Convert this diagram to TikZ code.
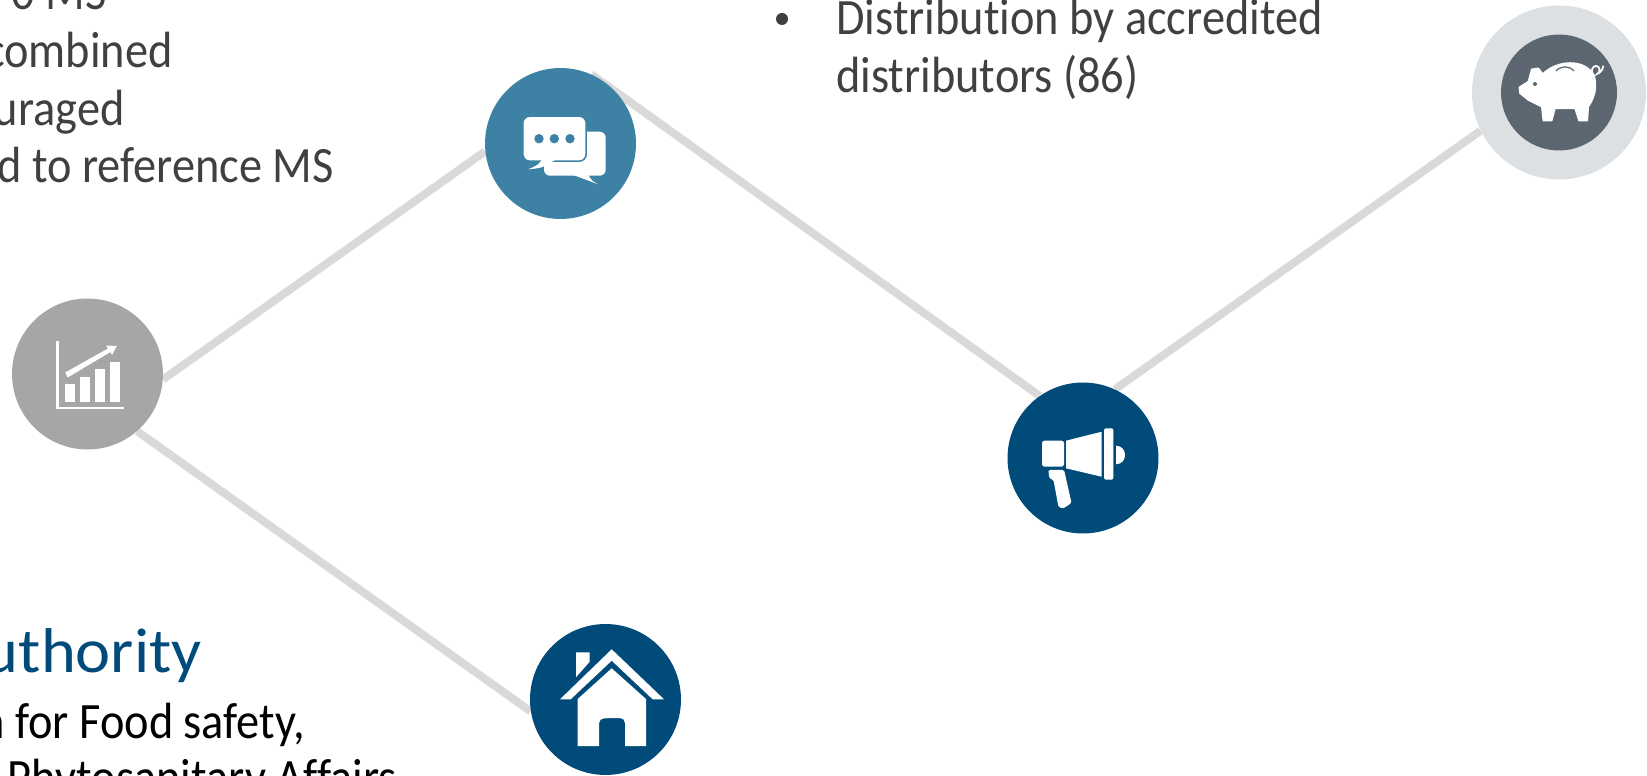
\documentclass[tikz,border=0pt]{standalone}
\usepackage{fontspec}
\setmainfont{Carlito}[FakeStretch=0.91,Ligatures=NoCommon]
\newfontfamily\headfont{Carlito}[FakeStretch=1.05,Ligatures=NoCommon]
\usetikzlibrary{backgrounds}
\definecolor{linegray}{HTML}{D9D9D9}
\definecolor{chartgray}{HTML}{A6A6A6}
\definecolor{chatblue}{HTML}{3D81A5}
\definecolor{darkblue}{HTML}{004B7A}
\definecolor{pigslate}{HTML}{5B6670}
\definecolor{pigring}{HTML}{DDE0E3}
\definecolor{textgray}{HTML}{404040}
\begin{document}
\begin{tikzpicture}[x=0.02cm,y=-0.02cm,
    cnode/.style={circle,minimum size=3.02cm,inner sep=0pt},
    link/.style={draw=linegray,line width=0.16cm},
    tnode/.style={anchor=base east,inner sep=0pt,font=\fontsize{29}{34}\selectfont},
    icon/.style={fill=white,draw=none}]
    \useasboundingbox (0,0) rectangle (1647,776);

    \node[cnode,fill=chartgray] (chart) at (87.5,374) {};
    \node[cnode,fill=chatblue] (chat) at (560.5,143.5) {};
    \node[cnode,fill=darkblue] (megaphone) at (1083,458) {};
    \node[cnode,fill=darkblue] (house) at (605.5,699.5) {};
    \node[circle,minimum size=3.48cm,inner sep=0pt,fill=pigring] (piggy) at (1559,92.5) {};
    \node[circle,minimum size=2.32cm,inner sep=0pt,fill=pigslate] (pigcore) at (piggy.center) {};

    \begin{scope}[on background layer]
    \draw[link] (chart.-4.5) -- (chat.186.5);
    \draw[link] (chart.-49) -- (house.189);
    \draw[link] (chat.66) -- (megaphone.125);
    \draw[link] (megaphone.65) -- (piggy.206.6);
    \end{scope}

    \node[tnode,text=textgray] (t1) at (107,10) {0 MS};
    \node[tnode,text=textgray] (t2) at (173,68) {combined};
    \node[tnode,text=textgray] (t3) at (125,125.5) {uraged};
    \node[tnode,text=textgray] (t4) at (334,183) {d to reference MS};
    \node[tnode,anchor=base west,text=textgray] (d1) at (836,35) {Distribution by accredited};
    \node[tnode,anchor=base west,text=textgray] (d2) at (836,92.5) {distributors (86)};
    \node[circle,fill=textgray,minimum size=0.24cm,inner sep=0pt] (bullet) at (782,19) {};
    \node[tnode,text=darkblue,font=\fontsize{36}{42}\headfont] (a1) at (202,673) {Authority};
    \node[tnode,text=black] (a2) at (305,738) {n for Food safety,};
    \node[tnode,text=black] (a3) at (397,794) {Phytosanitary Affairs};

    % chart icon
    \draw[white,line width=0.05cm] (57.5,341.5) -- (57.5,408) -- (124,408);
    \fill[icon] (64.5,384) rectangle (74.5,402.3);
    \fill[icon] (79.5,376.7) rectangle (89.5,402.3);
    \fill[icon] (94.7,369) rectangle (104.7,402.3);
    \fill[icon] (110,361.7) rectangle (120,402.3);
    \fill[icon] (65.2,372.5) -- (108,348.5) -- (106,345.5) -- (116.7,346) -- (112,355) -- (110.5,352) -- (67.7,377.5) -- cycle;

    % chat icon
    \fill[icon,rounded corners=0.12cm] (544,131.7) rectangle (605.7,175.7);
    \fill[icon] (573.3,175) -- (598.3,184.3) .. controls (592,181) .. (588.3,175) -- cycle;
    \draw[icon,draw=chatblue,line width=0.03cm,rounded corners=0.14cm] (522.8,116.2) rectangle (586.2,161.2);
    \fill[icon] (541.7,160) .. controls (538,165) .. (528.3,169.3) .. controls (542,168) .. (555,160) -- cycle;
    \foreach \dotx in {539,554.3,570}
        \fill[chatblue] (\dotx,138.7) circle (0.094cm);

    % megaphone icon
    \fill[icon,rounded corners=0.05cm] (1064,440.7) -- (1042,440.7) -- (1042,466.7) -- (1064,466.7) -- cycle;
    \fill[icon] (1066,440.7) -- (1101.7,431.7) -- (1101.7,476.7) -- (1066,468.3) -- cycle;
    \fill[icon,rounded corners=0.03cm] (1104,428.3) rectangle (1113.3,479.7);
    \fill[icon] (1116,445.7) .. controls (1128,446) and (1128,464) .. (1116,464.3) -- cycle;
    \fill[icon,rounded corners=0.03cm] (1048.3,470) -- (1064,470) -- (1065,474) -- (1071.5,503) -- (1063.3,508.5) -- (1058.5,507) -- (1053.5,480) -- (1049.3,478.3) -- cycle;

    % house icon
    \fill[icon] (576,652.3) -- (589.7,652.3) -- (589.7,661.7) -- (576,677.3) -- cycle;
    \fill[icon] (611.7,649.3) -- (664,699.3) -- (652.7,699.3) -- (611.7,660.7) -- (570.7,699.3) -- (560,699.3) -- cycle;
    \fill[icon] (611.7,668.3) -- (646,699) -- (646,746) -- (625,746) -- (625,723) arc (0:90:0.1cm) -- (604,718.3) arc (90:180:0.1cm) -- (599,746) -- (577.7,746) -- (577.7,699) -- cycle;

    % piggy icon
    \filldraw[white,line width=0.03cm,line join=round] (1519.3,87.3) -- (1528.3,81.7) -- (1531.7,69.3) -- (1538.3,68.3) -- (1542.7,74)
        .. controls (1555,62) and (1575,60) .. (1586,67) .. controls (1592,71) and (1595,75) .. (1595,80)
        .. controls (1597,90) and (1593,100) .. (1588.3,106.7) -- (1587.3,120.7) -- (1579,120.7) -- (1575,108.3)
        -- (1555,108.3) -- (1551.7,120.7) -- (1543.3,120.7) -- (1541.7,106.7) -- (1528.3,100) -- (1520,93.3) -- cycle;
    \draw[pigslate,line width=0.025cm] (1556,71) .. controls (1561,65.5) and (1569,65.5) .. (1574,71);
    \fill[pigslate] (1535,84) circle (0.04cm);
    \draw[white,line width=0.035cm] (1593,76) .. controls (1590,70) and (1593,66) .. (1596,66) .. controls (1600,66) and (1601,72) .. (1597,74) .. controls (1600,73) and (1603,70) .. (1603.3,65.7);
\end{tikzpicture}
\end{document}
